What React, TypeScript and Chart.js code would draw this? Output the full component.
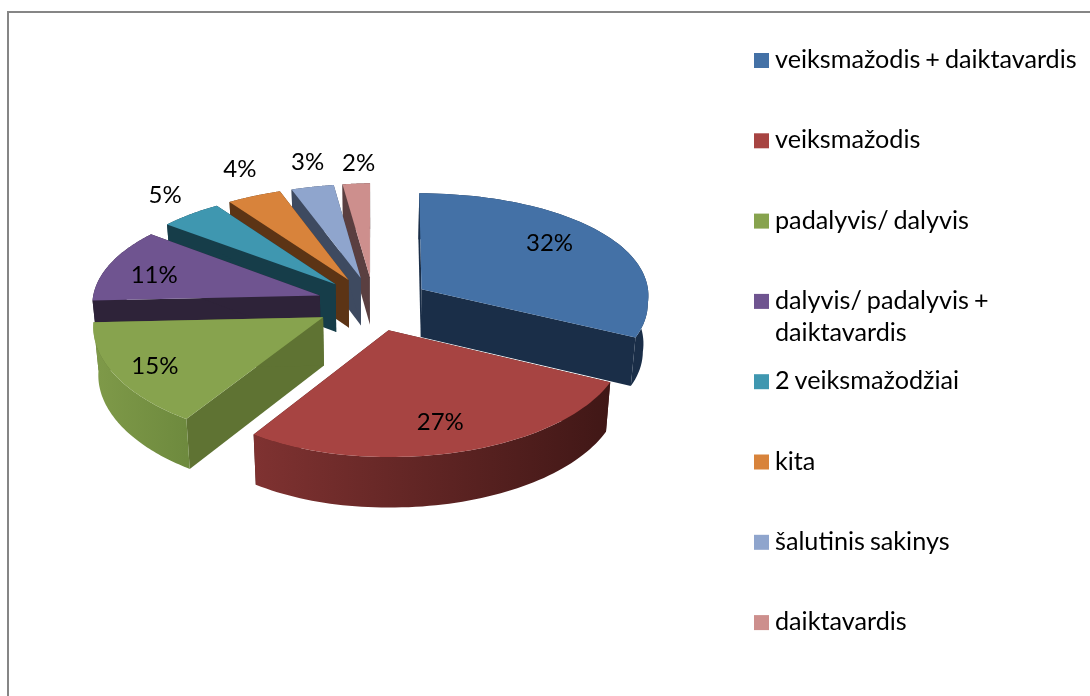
import React, { useEffect, useRef } from "react";
import { Chart, registerables } from "chart.js";

Chart.register(...registerables);

const categories = [
  "veiksmažodis + daiktavardis",
  "veiksmažodis",
  "padalyvis/ dalyvis",
  "dalyvis/ padalyvis + daiktavardis",
  "2 veiksmažodžiai",
  "kita",
  "šalutinis sakinys",
  "daiktavardis",
];
const shares = [32.2, 27.3, 15.2, 11.2, 4.75, 4.1, 3.2, 2.05];
const topColors = ["#4471a6", "#a74442", "#87a34e", "#6f5490", "#3f97b0", "#d8833b", "#8fa5cd", "#cd8f8d"];
const sideColors = ["#1a2e48", "#4a1c1a", "#5f7333", "#2e2339", "#163d49", "#5c3415", "#3e4a60", "#5a3f40"];
const wallFrom = ["#1a2e48", "#7f3231", "#7f9a49", "#2e2339", "#163d49", "#5c3415", "#3e4a60", "#5a3f40"];
const wallTo = ["#1a2e48", "#401716", "#6e8a3e", "#2e2339", "#163d49", "#5c3415", "#3e4a60", "#5a3f40"];
const labelReach = [0.74, 0.77, 0.82, 0.77, 1.25, 1.32, 1.29, 1.24];
const labelTurn = [-6, 0, -1, -3, 2.5, 3.2, 1.8, 1.2];

const FONT = "Lato";
const EXPLODE = 57;
const DEPTH = 48;
const SQUASH = 0.475;
const PERSP_X = 0.05;
const PERSP_RIGHT = 0.06;
const PERSP_Y = 0.1;
const LEFT_SAG = 3;

const wrap = (s: string) => (s.startsWith("dalyvis/") ? ["dalyvis/ padalyvis +", "daiktavardis"] : [s]);

const pie3d = {
  id: "pie3d",
  beforeDraw(chart: any) {
    const { ctx, width, height } = chart;
    ctx.save();
    ctx.fillStyle = "#ffffff";
    ctx.fillRect(0, 0, width, height);
    ctx.fillStyle = "#868686";
    ctx.fillRect(7, 11, width - 7, 2);
    ctx.fillRect(7, 11, 2, height - 11);
    ctx.restore();
  },
  beforeDatasetsDraw(chart: any) {
    const { ctx } = chart;
    const arcs: any[] = chart.getDatasetMeta(0).data;
    const order = arcs
      .map((a, i) => ({ a, i, mid: (a.startAngle + a.endAngle) / 2 }))
      .sort((p, q) => Math.sin(p.mid) - Math.sin(q.mid));

    const project = (arc: any, px: number, py: number, dz: number) => {
      const R = arc.outerRadius;
      const u = px - arc.x;
      const v = py - arc.y;
      const far = -v / R;
      const drop = dz / (1 + 0.04 * far);
      const shrink = 1 - (0.018 * dz) / DEPTH;
      const rightFlare = u > 0 && far < 0 ? 1 - PERSP_RIGHT * far : 1;
      return {
        x: arc.x + (u * shrink * rightFlare) / (1 + PERSP_X * far),
        y: arc.y + (SQUASH * v) / (1 + PERSP_Y * far) + drop + LEFT_SAG * Math.max(0, -u / R),
      };
    };
    const tracePath = (pts: { x: number; y: number }[]) => {
      ctx.beginPath();
      pts.forEach((p, k) => (k ? ctx.lineTo(p.x, p.y) : ctx.moveTo(p.x, p.y)));
      ctx.closePath();
    };

    ctx.save();
    for (const { a, i, mid } of order) {
      const ox = a.x + Math.cos(mid) * EXPLODE;
      const oy = a.y + Math.sin(mid) * EXPLODE;
      const steps = 64;
      const rim: [number, number][] = [];
      for (let k = 0; k <= steps; k++) {
        const t = a.startAngle + ((a.endAngle - a.startAngle) * k) / steps;
        rim.push([ox + Math.cos(t) * a.outerRadius, oy + Math.sin(t) * a.outerRadius]);
      }
      const P = (q: [number, number], d: number) => project(a, q[0], q[1], d);
      const apex: [number, number] = [ox, oy];

      // radial faces
      ctx.fillStyle = sideColors[i];
      for (const edge of [rim[0], rim[steps]]) {
        tracePath([P(apex, 0), P(edge, 0), P(edge, DEPTH), P(apex, DEPTH)]);
        ctx.fill();
      }
      // curved outer wall
      const top = rim.map((q) => P(q, 0));
      const bottom = rim.map((q) => P(q, DEPTH)).reverse();
      const xs = top.map((p) => p.x);
      const grad = ctx.createLinearGradient(Math.min(...xs), 0, Math.max(...xs), 0);
      grad.addColorStop(0, wallFrom[i]);
      grad.addColorStop(1, wallTo[i]);
      ctx.fillStyle = grad;
      tracePath([...top, ...bottom]);
      ctx.fill();
      // top face
      ctx.fillStyle = a.options.backgroundColor;
      tracePath([P(apex, 0), ...top]);
      ctx.fill();
    }

    // percentage labels
    const total = shares.reduce((s, v) => s + v, 0);
    ctx.fillStyle = "#000000";
    ctx.font = `24px ${FONT}`;
    ctx.textAlign = "center";
    ctx.textBaseline = "middle";
    arcs.forEach((a, i) => {
      const mid = (a.startAngle + a.endAngle) / 2;
      const turned = mid + (labelTurn[i] * Math.PI) / 180;
      const lx = a.x + Math.cos(mid) * EXPLODE + Math.cos(turned) * a.outerRadius * labelReach[i];
      const ly = a.y + Math.sin(mid) * EXPLODE + Math.sin(turned) * a.outerRadius * labelReach[i];
      const p = project(a, lx, ly, 0);
      ctx.fillText(`${Math.round((shares[i] / total) * 100)}%`, p.x, p.y);
    });

    // legend
    ctx.textAlign = "left";
    ctx.font = `25.2px ${FONT}`;
    (ctx as any).wordSpacing = "-1.5px";
    categories.forEach((c, i) => {
      const y = 60 + i * 80.3;
      ctx.fillStyle = topColors[i];
      ctx.fillRect(754, y - 7, 15, 15);
      ctx.fillStyle = "#000000";
      wrap(c).forEach((line, k) => ctx.fillText(line, 775, y + k * 32));
    });
    ctx.restore();
    return false;
  },
};

export default function App() {
  const ref = useRef<HTMLCanvasElement>(null);
  useEffect(() => {
    const chart = new Chart(ref.current as HTMLCanvasElement, {
      type: "pie",
      data: {
        labels: categories,
        datasets: [{ data: shares, backgroundColor: topColors, borderWidth: 0, radius: 228 } as any],
      },
      options: {
        animation: false,
        responsive: false,
        layout: { padding: { left: 11, right: 354, top: 16, bottom: 105 } },
        plugins: { legend: { display: false }, tooltip: { enabled: false } },
      },
      plugins: [pie3d],
    });
    return () => chart.destroy();
  }, []);
  return (
    <canvas
      ref={ref}
      width={1090}
      height={696}
      style={{ position: "absolute", left: 0, top: 0, width: 1090, height: 696, display: "block" }}
    />
  );
}
